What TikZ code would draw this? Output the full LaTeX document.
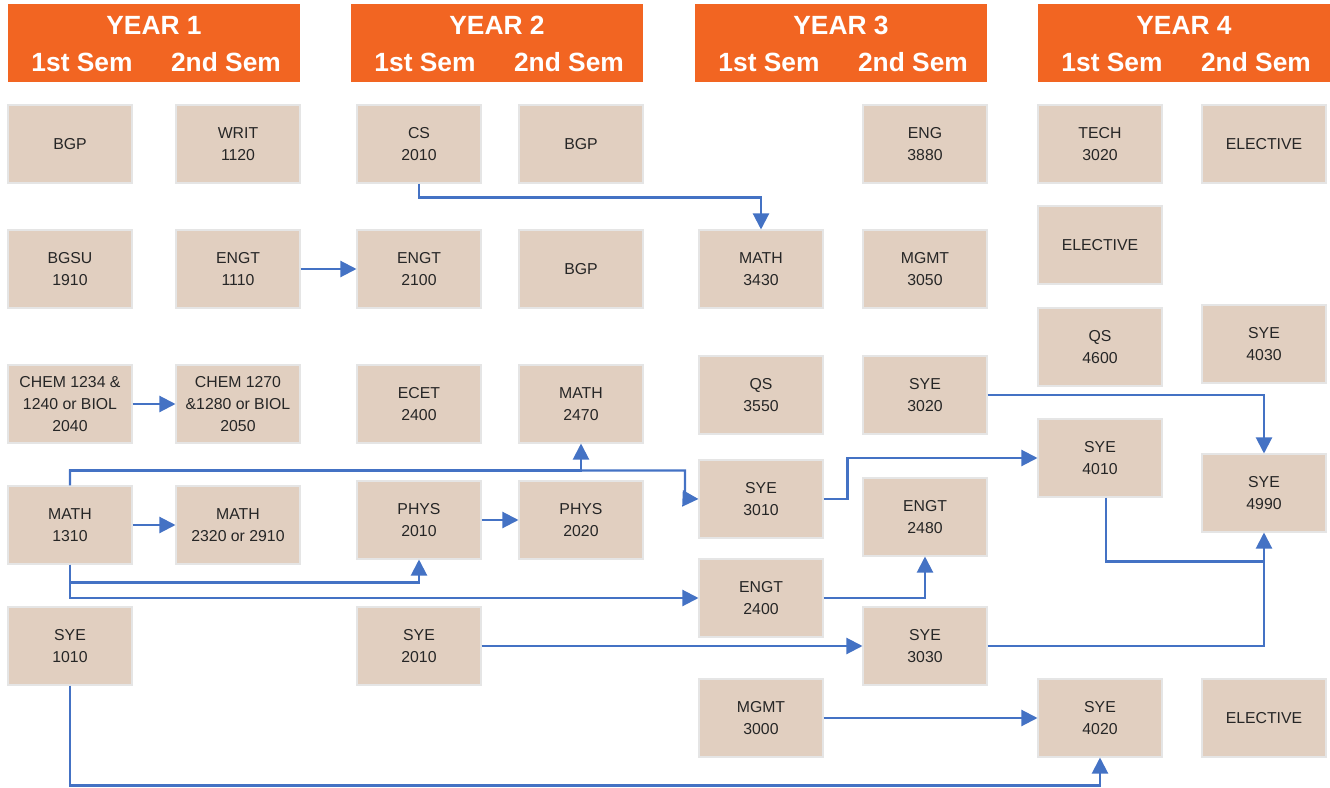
\documentclass[tikz,border=0pt]{standalone}
\usepackage{fontspec}
\setmainfont{Liberation Sans}
\usetikzlibrary{arrows.meta}
\definecolor{hdrorange}{HTML}{F26522}
\definecolor{boxtan}{HTML}{E1CFC0}
\definecolor{arrblue}{HTML}{4472C4}
\tikzset{
    course/.style  = {draw=black!10, line width=0.6pt, fill=boxtan,
                      minimum width=2.48cm, minimum height=1.56cm, inner sep=1pt,
                      align=center, text=black!85, font=\fontsize{9}{12.5}\selectfont},
    yearhdr/.style = {fill=hdrorange, minimum width=5.84cm, minimum height=1.56cm, inner sep=0pt},
    hdrtext/.style = {text=white, inner sep=0pt, font=\bfseries\fontsize{15}{18}\selectfont},
    link/.style    = {draw=arrblue, line width=1.2pt},
    prereq/.style  = {link, -{Triangle[length=0.32cm,width=0.32cm]}},
}
\begin{document}
\begin{tikzpicture}[x=0.02cm, y=-0.02cm]
    \useasboundingbox (0,0) rectangle (1330,788);
    % year headers
    \foreach \n/\cx in {1/154, 2/497, 3/841, 4/1184} {
        \node[yearhdr] (year\n) at (\cx,43) {};
        \node[hdrtext] (yearlbl\n) at (\cx,25) {YEAR \n};
        \node[hdrtext] (firstsem\n) at (\cx-72,62) {1st Sem};
        \node[hdrtext] (secondsem\n) at (\cx+72,62) {2nd Sem};
    }
    % year 1
    \node[course] (bgpA)     at (70,144)  {BGP};
    \node[course] (writ)     at (238,144) {WRIT\\1120};
    \node[course] (bgsu)     at (70,269)  {BGSU\\1910};
    \node[course] (engtA)    at (238,269) {ENGT\\1110};
    \node[course] (chemA)    at (70,404)  {CHEM 1234 \&\\1240 or BIOL\\2040};
    \node[course] (chemB)    at (238,404) {CHEM 1270\\\&1280 or BIOL\\2050};
    \node[course] (mathA)    at (70,525)  {MATH\\1310};
    \node[course] (mathB)    at (238,525) {MATH\\2320 or 2910};
    \node[course] (syeA)     at (70,646)  {SYE\\1010};
    % year 2
    \node[course] (cs)       at (419,144) {CS\\2010};
    \node[course] (bgpB)     at (581,144) {BGP};
    \node[course] (engtB)    at (419,269) {ENGT\\2100};
    \node[course] (bgpC)     at (581,269) {BGP};
    \node[course] (ecet)     at (419,404) {ECET\\2400};
    \node[course] (mathC)    at (581,404) {MATH\\2470};
    \node[course] (physA)    at (419,520) {PHYS\\2010};
    \node[course] (physB)    at (581,520) {PHYS\\2020};
    \node[course] (syeB)     at (419,646) {SYE\\2010};
    % year 3
    \node[course] (eng)      at (925,144) {ENG\\3880};
    \node[course] (mathD)    at (761,269) {MATH\\3430};
    \node[course] (mgmtA)    at (925,269) {MGMT\\3050};
    \node[course] (qsA)      at (761,395) {QS\\3550};
    \node[course] (syeC)     at (925,395) {SYE\\3020};
    \node[course] (syeD)     at (761,499) {SYE\\3010};
    \node[course] (engtC)    at (925,517) {ENGT\\2480};
    \node[course] (engtD)    at (761,598) {ENGT\\2400};
    \node[course] (syeE)     at (925,646) {SYE\\3030};
    \node[course] (mgmtB)    at (761,718) {MGMT\\3000};
    % year 4
    \node[course] (tech)     at (1100,144) {TECH\\3020};
    \node[course] (electA)   at (1264,144) {ELECTIVE};
    \node[course] (electB)   at (1100,245) {ELECTIVE};
    \node[course] (qsB)      at (1100,347) {QS\\4600};
    \node[course] (syeF)     at (1264,344) {SYE\\4030};
    \node[course] (syeG)     at (1100,458) {SYE\\4010};
    \node[course] (syeH)     at (1264,493) {SYE\\4990};
    \node[course] (syeI)     at (1100,718) {SYE\\4020};
    \node[course] (electC)   at (1264,718) {ELECTIVE};
    % prerequisites
    \draw[prereq] (cs.south) -- ++(0,14) -| (mathD.north);
    \draw[prereq] (engtA) -- (engtB);
    \draw[prereq] (chemA) -- (chemB);
    \draw[prereq] (mathA) -- (mathB);
    \draw[prereq] (physA) -- (physB);
    \draw[prereq] (mathA.north) -- ++(0,-15) -| (mathC.south);
    \draw[prereq] (mathA.north) -- ++(0,-15) -| ++(615,28) -- (syeD.west);
    \draw[prereq] (mathA.south) -- ++(0,18) -| (physA.south);
    \draw[prereq] (mathA.south) |- (engtD.west);
    \draw[prereq] (syeD.east) -- ++(24,0) |- (syeG.west);
    \draw[prereq] (engtD.east) -| (engtC.south);
    \draw[prereq] (syeB) -- (syeE);
    \draw[prereq] (syeE.east) -| (syeH.south);
    \draw[link]   ([xshift=0.12cm]syeG.south) |- ++(158,64);
    \draw[prereq] (syeC.east) -| (syeH.north);
    \draw[prereq] (mgmtB) -- (syeI);
    \draw[prereq] (syeA.south) -- ++(0,100) -| (syeI.south);
\end{tikzpicture}
\end{document}
